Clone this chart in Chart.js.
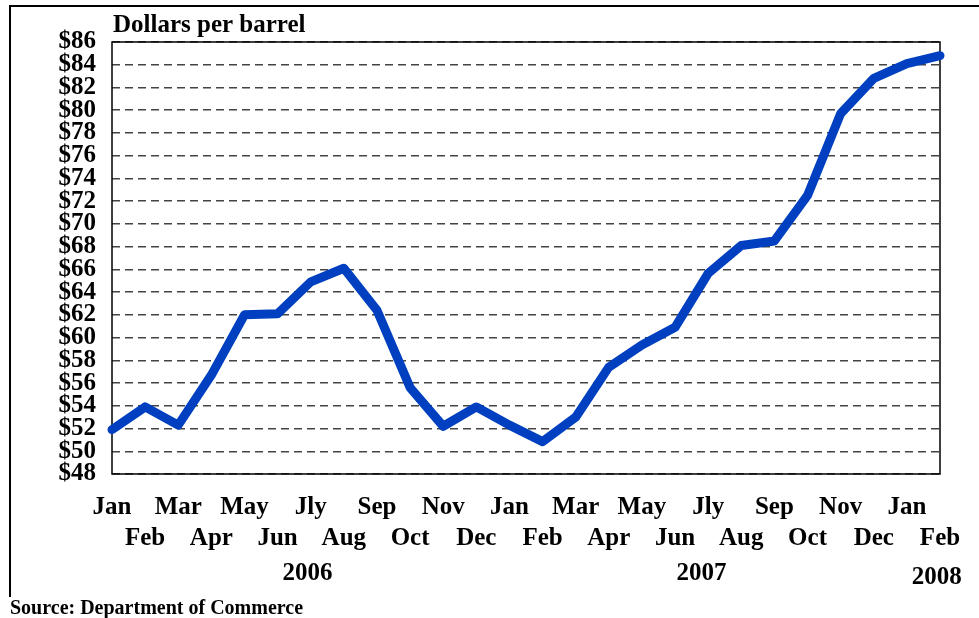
<!DOCTYPE html>
<html>
<head>
<meta charset="utf-8">
<script src="https://cdn.jsdelivr.net/npm/chart.js@4.4.1/dist/chart.umd.min.js"></script>
<style>
  html, body { margin: 0; padding: 0; background: #fff; }
  #wrap { width: 979px; height: 618px; position: relative; }
</style>
</head>
<body>
<div id="wrap"><canvas id="chartOil"></canvas></div>
<script>
// Monthly import price, Jan 2006 - Feb 2008
const months = ['Jan', 'Feb', 'Mar', 'Apr', 'May', 'Jun', 'Jly', 'Aug', 'Sep', 'Oct', 'Nov', 'Dec',
                'Jan', 'Feb', 'Mar', 'Apr', 'May', 'Jun', 'Jly', 'Aug', 'Sep', 'Oct', 'Nov', 'Dec',
                'Jan', 'Feb'];
const prices = [51.9, 53.9, 52.3, 56.7, 62.0, 62.1, 64.9, 66.1, 62.4, 55.6, 52.2, 53.9,
                52.3, 50.85, 53.0, 57.4, 59.35, 60.9, 65.65, 68.1, 68.5, 72.5, 79.7, 82.8,
                84.1, 84.8];
const yearLabels = ['2006', '2007', '2008'];
const yearAt = [5.9, 17.8, 24.9];   // position along the month axis
const yMin = 48, yMax = 86, yStep = 2;

const FONT = "'Liberation Serif', 'Times New Roman', serif";

// frame, plot border and extra texts
const decorations = {
    id: 'decorations',
    beforeDatasetsDraw(chart) {
        const { ctx, chartArea: a } = chart;
        ctx.save();
        ctx.strokeStyle = '#000';
        ctx.lineWidth = 1.5;
        ctx.strokeRect(a.left, a.top, a.right - a.left, a.bottom - a.top);
        ctx.restore();
    },
    afterDraw(chart) {
        const { ctx } = chart;
        const x = chart.scales.x;
        ctx.save();
        // outer frame
        ctx.strokeStyle = '#000';
        ctx.lineWidth = 2;
        ctx.beginPath();
        ctx.moveTo(10, 597);
        ctx.lineTo(10, 6);
        ctx.lineTo(979, 6);
        ctx.stroke();

        ctx.fillStyle = '#000';
        ctx.textBaseline = 'alphabetic';
        ctx.font = 'bold 25px ' + FONT;
        ctx.textAlign = 'left';
        ctx.fillText('Dollars per barrel', 113, 32);

        ctx.textAlign = 'center';
        yearLabels.forEach((yr, i) => {
            ctx.fillText(yr, x.getPixelForValue(yearAt[i]), i === 2 ? 584 : 580);
        });

        ctx.font = 'bold 20px ' + FONT;
        ctx.textAlign = 'left';
        ctx.fillText('Source: Department of Commerce', 10, 614);
        ctx.restore();
    }
};

new Chart(document.getElementById('chartOil'), {
    type: 'line',
    data: {
        labels: months,
        datasets: [{
            data: prices,
            borderColor: '#0040c0',
            borderWidth: 9,
            borderCapStyle: 'round',
            borderJoinStyle: 'round',
            pointRadius: 0,
            tension: 0,
            fill: false,
            clip: false
        }]
    },
    options: {
        responsive: true,
        maintainAspectRatio: false,
        animation: false,
        layout: { padding: { top: 42, right: 39, left: 0, bottom: 0 } },
        plugins: {
            legend: { display: false },
            tooltip: { enabled: false }
        },
        scales: {
            x: {
                type: 'category',
                offset: false,
                grid: { display: false, drawTicks: false },
                border: { display: false },
                afterFit(scale) { scale.height = 144; },
                ticks: {
                    autoSkip: false,
                    maxRotation: 0,
                    minRotation: 0,
                    padding: 18,
                    color: '#000',
                    font: { family: FONT, size: 25, weight: 'bold', lineHeight: 1.24 },
                    callback(value, index) {
                        return index % 2 === 0 ? [months[index]] : ['', months[index]];
                    }
                }
            },
            y: {
                min: yMin,
                max: yMax,
                grid: { color: '#444', lineWidth: 1.5, drawTicks: false },
                border: { display: false, dash: [8, 5] },
                afterFit(scale) { scale.width = 112; },
                ticks: {
                    stepSize: yStep,
                    autoSkip: false,
                    padding: 16,
                    color: '#000',
                    font: { family: FONT, size: 25, weight: 'bold' },
                    callback: v => '$' + v
                }
            }
        }
    },
    plugins: [decorations]
});
</script>
</body>
</html>
